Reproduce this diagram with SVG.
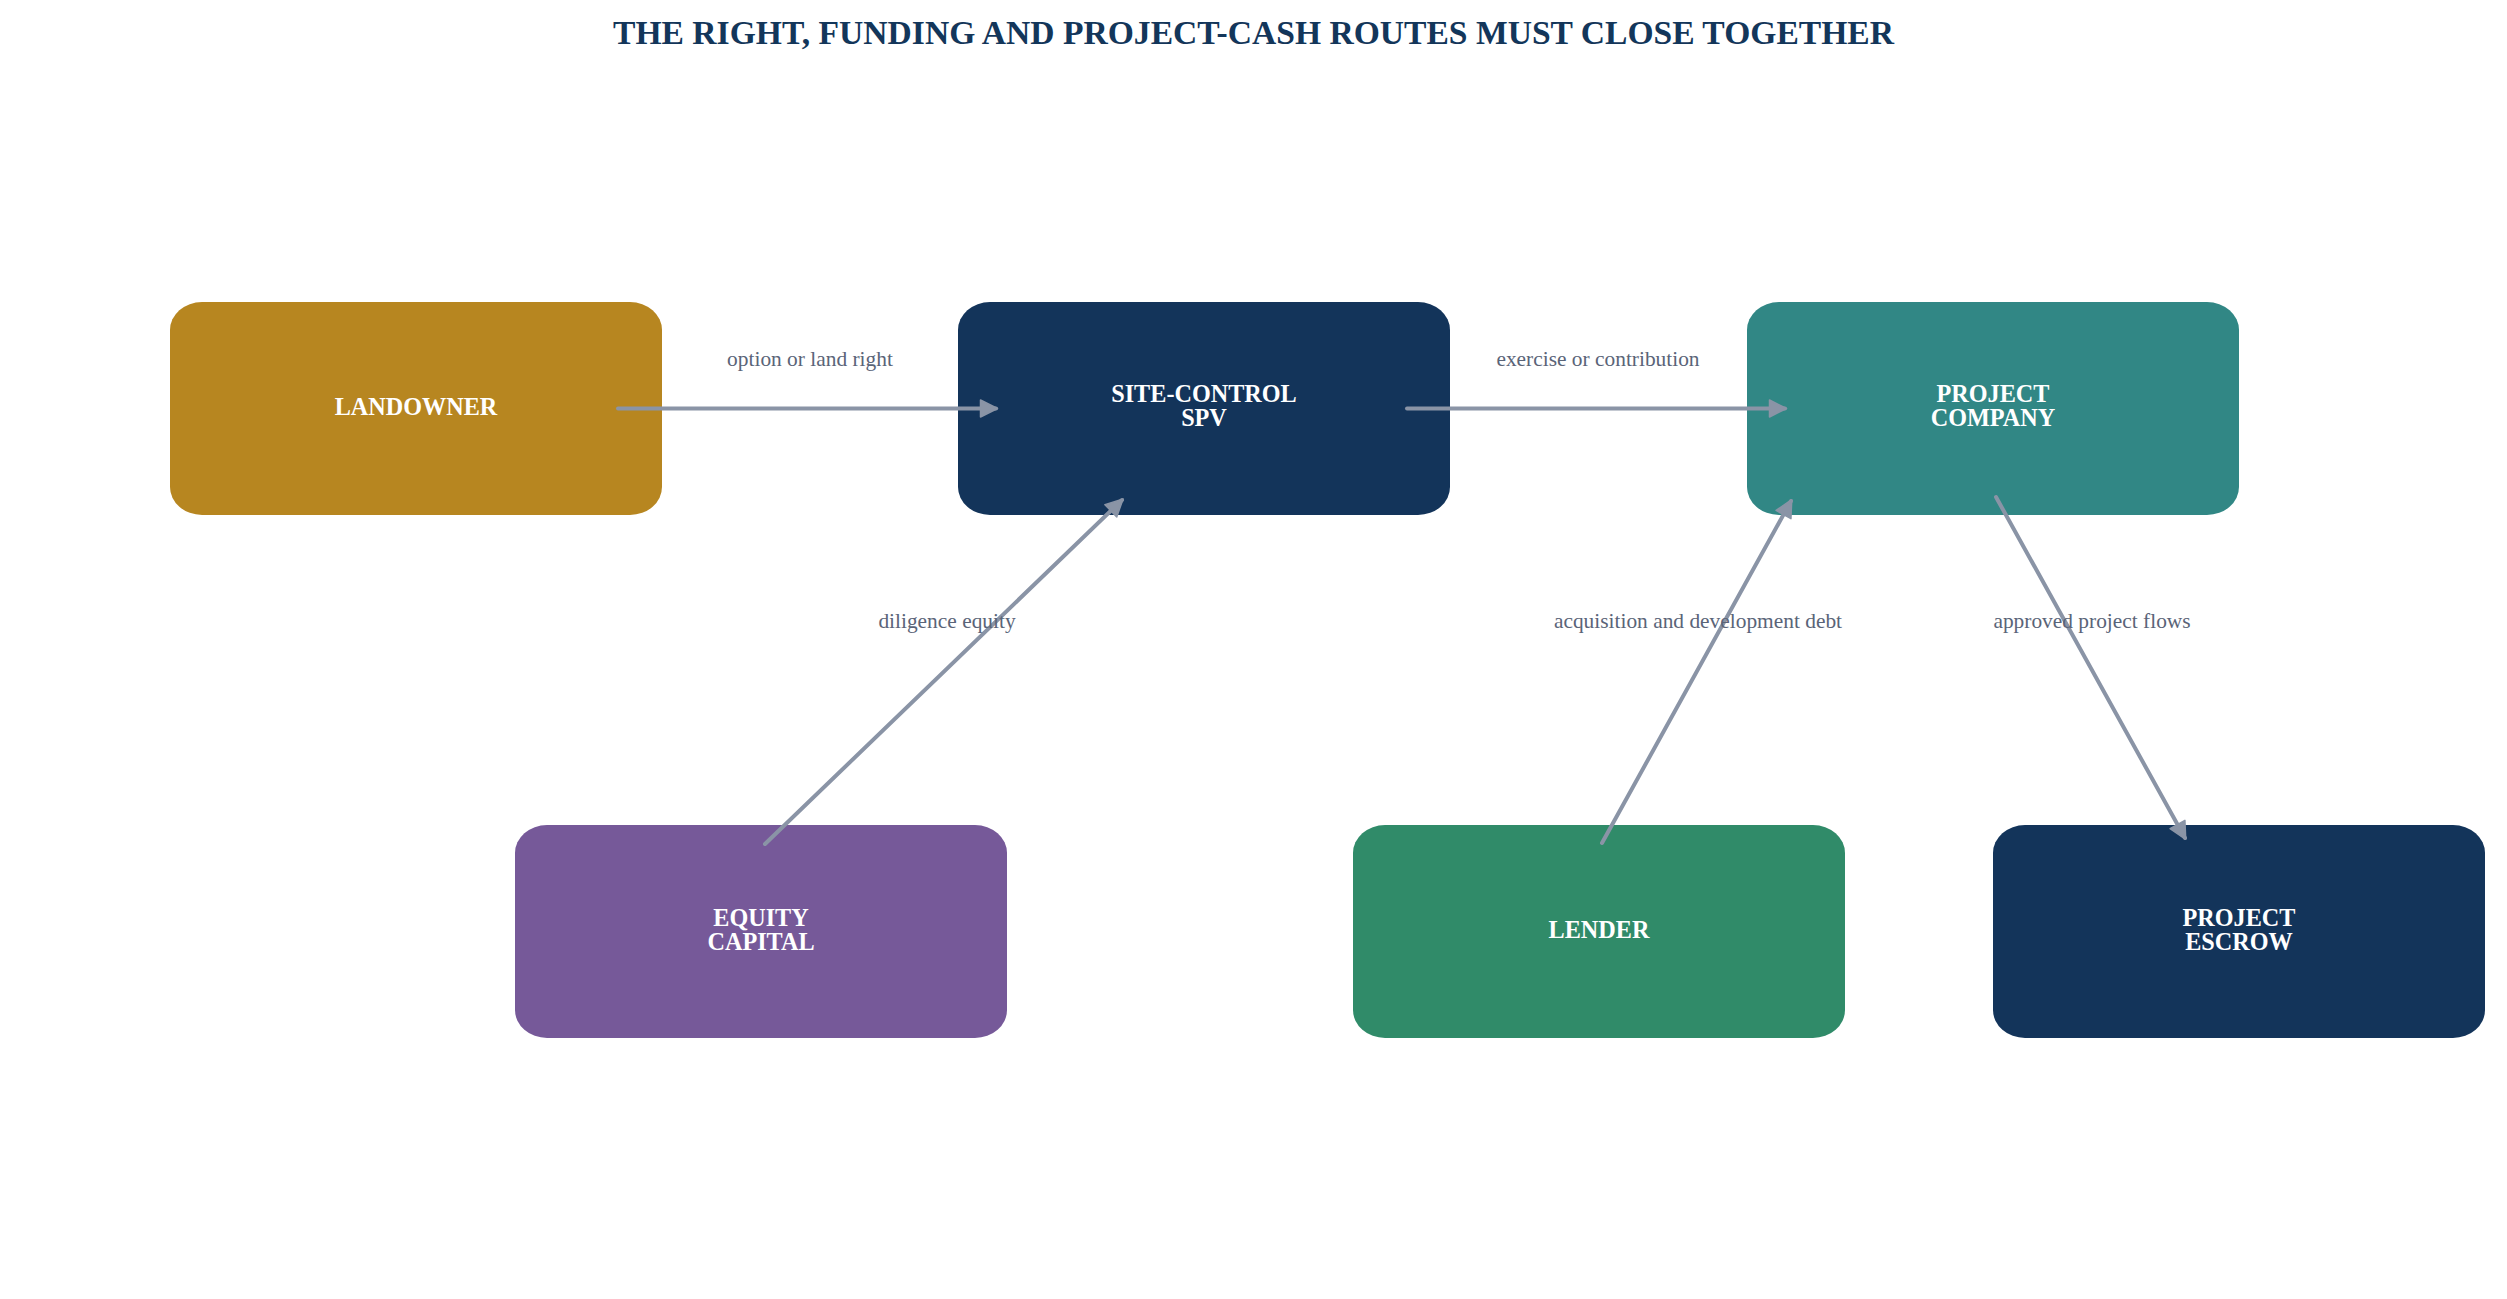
<svg xmlns="http://www.w3.org/2000/svg" width="2507" height="1299" viewBox="0 0 2507 1299">
  <style>
    .title { font-family: "Liberation Serif", "Times New Roman", serif; font-weight: bold; font-size: 33.6px; fill: #13365a; text-anchor: middle; }
    .node-label { font-family: "Liberation Serif", "Times New Roman", serif; font-weight: bold; font-size: 24.2px; fill: #ffffff; text-anchor: middle; }
    .edge { stroke: #8a94a6; stroke-width: 4; fill: none; stroke-linecap: round; }
    .edge-label { font-family: "Liberation Serif", "Times New Roman", serif; font-size: 21.4px; fill: #5a6478; text-anchor: middle; }
  </style>
  <defs>
    <marker id="arrow" viewBox="0 0 20 20" refX="17" refY="10" markerWidth="20" markerHeight="20" markerUnits="userSpaceOnUse" orient="auto">
      <path d="M1.5,1.5 L18.5,10 L1.5,18.5 Z" fill="#8a94a6" stroke="#8a94a6" stroke-width="1.5" stroke-linejoin="round"/>
    </marker>
  </defs>
  <rect width="2507" height="1299" fill="#ffffff"/>
  <text class="title" x="1253.5" y="44">THE RIGHT, FUNDING AND PROJECT-CASH ROUTES MUST CLOSE TOGETHER</text>

  <g id="node-landowner">
    <rect x="170" y="302" width="492" height="213" rx="32" ry="28" fill="#b78620"/>
    <text class="node-label" x="416" y="415">LANDOWNER</text>
  </g>
  <g id="node-spv">
    <rect x="958" y="302" width="492" height="213" rx="32" ry="28" fill="#13345a"/>
    <text class="node-label" x="1204" y="402">SITE-CONTROL</text>
    <text class="node-label" x="1204" y="426">SPV</text>
  </g>
  <g id="node-project-company">
    <rect x="1747" y="302" width="492" height="213" rx="32" ry="28" fill="#318785"/>
    <text class="node-label" x="1993" y="402">PROJECT</text>
    <text class="node-label" x="1993" y="426">COMPANY</text>
  </g>
  <g id="node-equity-capital">
    <rect x="515" y="825" width="492" height="213" rx="32" ry="28" fill="#765999"/>
    <text class="node-label" x="761" y="926">EQUITY</text>
    <text class="node-label" x="761" y="950">CAPITAL</text>
  </g>
  <g id="node-lender">
    <rect x="1353" y="825" width="492" height="213" rx="32" ry="28" fill="#308b69"/>
    <text class="node-label" x="1599" y="938">LENDER</text>
  </g>
  <g id="node-project-escrow">
    <rect x="1993" y="825" width="492" height="213" rx="32" ry="28" fill="#13345a"/>
    <text class="node-label" x="2239" y="926">PROJECT</text>
    <text class="node-label" x="2239" y="950">ESCROW</text>
  </g>

  <g id="connectors">
    <line class="edge" x1="618" y1="408.5" x2="996" y2="408.5" marker-end="url(#arrow)"/>
    <line class="edge" x1="1407" y1="408.5" x2="1785" y2="408.5" marker-end="url(#arrow)"/>
    <line class="edge" x1="765" y1="844" x2="1122" y2="500" marker-end="url(#arrow)"/>
    <line class="edge" x1="1602" y1="843" x2="1791" y2="501" marker-end="url(#arrow)"/>
    <line class="edge" x1="1996" y1="497" x2="2185" y2="838" marker-end="url(#arrow)"/>
    <text class="edge-label" x="810" y="366">option or land right</text>
    <text class="edge-label" x="1598" y="366">exercise or contribution</text>
    <text class="edge-label" x="947" y="628">diligence equity</text>
    <text class="edge-label" x="1698" y="628">acquisition and development debt</text>
    <text class="edge-label" x="2092" y="628">approved project flows</text>
  </g>
</svg>
